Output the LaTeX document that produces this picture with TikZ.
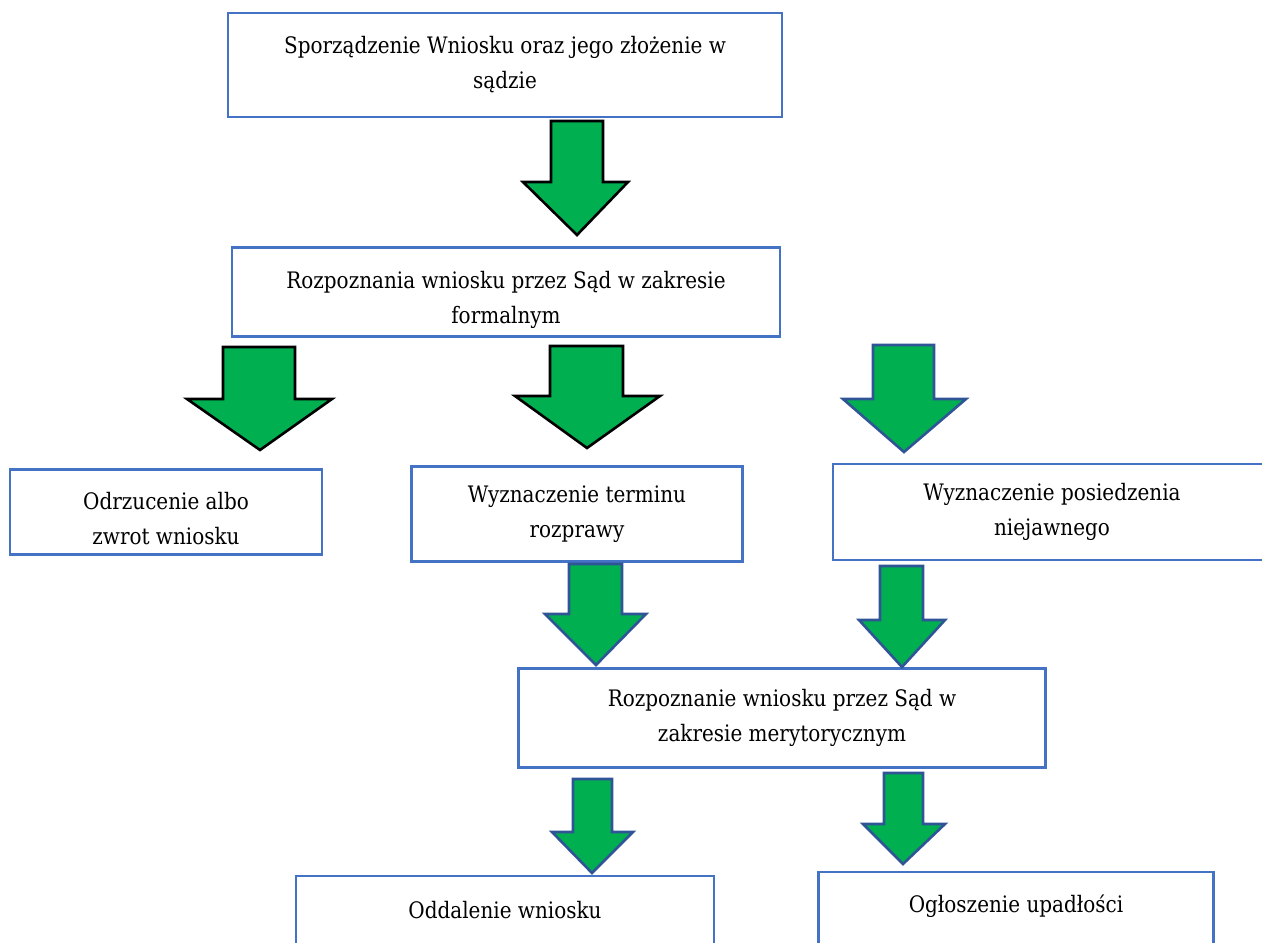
\documentclass[tikz,border=0pt]{standalone}
\usepackage{fontspec}
\setmainfont{DejaVu Serif}[FakeStretch=0.88]
\usepackage{xcolor}
\usetikzlibrary{positioning}

\definecolor{boxblue}{HTML}{4472C4}
\definecolor{arrowgreen}{HTML}{00B050}
\definecolor{edgeblue}{HTML}{2F5597}

\begin{document}
\begin{tikzpicture}[
    x=1pt, y=-1pt,
    box/.style={rectangle, draw=boxblue, line width=2.2pt, fill=white, align=center, inner sep=0pt, font=\fontsize{22.7}{35}\selectfont},
    bigarrow/.style={draw=black, fill=arrowgreen, line width=2.6pt, line join=miter},
    bluearrow/.style={bigarrow, draw=edgeblue}
]
\useasboundingbox (0,0) rectangle (1262,943);

% Boxes
\node[box, minimum width=554pt, minimum height=104pt] (wniosek) at (505,65) {Sporządzenie Wniosku oraz jego złożenie w\\sądzie};
\node[box, minimum width=548pt, minimum height=89pt] (formalny) at (506,292) {\rule{0pt}{34pt}Rozpoznania wniosku przez Sąd w zakresie\\formalnym};
\node[box, minimum width=312pt, minimum height=85pt] (odrzucenie) at (166,512) {\rule{0pt}{30pt}Odrzucenie albo\\zwrot wniosku};
\node[box, minimum width=331pt, minimum height=95pt] (rozprawa) at (577,514) {Wyznaczenie terminu\\rozprawy};
\node[box, minimum width=438pt, minimum height=96pt] (niejawne) at (1052,512) {Wyznaczenie posiedzenia\\niejawnego};
\node[box, minimum width=527pt, minimum height=99pt] (merytoryczny) at (782,718) {Rozpoznanie wniosku przez Sąd w\\zakresie merytorycznym};
\node[box, minimum width=418pt, text height=42pt, text depth=70pt, anchor=north] (oddalenie) at (505,875) {Oddalenie wniosku};
\node[box, minimum width=395pt, text height=40pt, text depth=70pt, anchor=north] (upadlosc) at (1016,871) {Ogłoszenie upadłości};

% Arrows
\draw[bigarrow] (551,121) -- (603,121) -- (603,182) -- (628,182) -- (577,235) -- (523,182) -- (551,182) -- cycle;
\draw[bigarrow] (223,347) -- (295,347) -- (295,399) -- (332,399) -- (260,450) -- (187,399) -- (223,399) -- cycle;
\draw[bigarrow] (550,346) -- (623,346) -- (623,396) -- (660,396) -- (587,448) -- (515,396) -- (550,396) -- cycle;
\draw[bluearrow] (873,345) -- (934,345) -- (934,399) -- (966,399) -- (904,452) -- (843,399) -- (873,399) -- cycle;
\draw[bluearrow] (569,564) -- (622,564) -- (622,614) -- (646,614) -- (596,665) -- (545,614) -- (569,614) -- cycle;
\draw[bluearrow] (880,566) -- (923,566) -- (923,620) -- (945,620) -- (902,667) -- (859,620) -- (880,620) -- cycle;
\draw[bluearrow] (573,779) -- (612,779) -- (612,832) -- (633,832) -- (592,873) -- (552,832) -- (573,832) -- cycle;
\draw[bluearrow] (884,773) -- (923,773) -- (923,824) -- (945,824) -- (903,864) -- (863,824) -- (884,824) -- cycle;

\end{tikzpicture}
\end{document}
